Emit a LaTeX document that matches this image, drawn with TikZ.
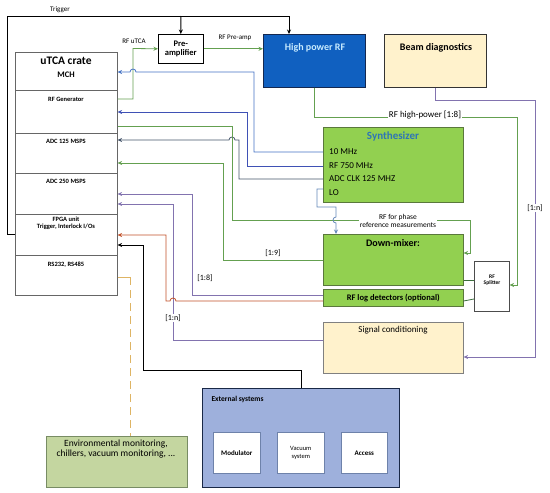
\documentclass[tikz,border=0pt]{standalone}
\usepackage{fontspec}
\setmainfont{Carlito}
\usetikzlibrary{arrows.meta,positioning}

\definecolor{wgreen}{RGB}{100,160,80}
\definecolor{wblue}{RGB}{68,114,196}
\definecolor{windigo}{RGB}{63,81,181}
\definecolor{wslate}{RGB}{68,84,106}
\definecolor{wlo}{RGB}{100,135,185}
\definecolor{wpurple}{RGB}{130,115,175}
\definecolor{wred}{RGB}{192,80,40}
\definecolor{wtan}{RGB}{222,180,100}
\definecolor{wdkgreen}{RGB}{60,110,60}
\definecolor{synthfill}{RGB}{146,208,80}
\definecolor{synthdraw}{RGB}{90,120,60}
\definecolor{hprffill}{RGB}{16,96,192}
\definecolor{hprfdraw}{RGB}{20,40,80}
\definecolor{hprftext}{RGB}{200,235,255}
\definecolor{creamfill}{RGB}{255,242,204}
\definecolor{extfill}{RGB}{158,176,220}
\definecolor{extdraw}{RGB}{25,40,70}
\definecolor{subdraw}{RGB}{110,130,170}
\definecolor{envfill}{RGB}{196,214,160}
\definecolor{envdraw}{RGB}{120,140,100}
\definecolor{synthtitle}{RGB}{46,117,182}

\newcommand{\fs}[1]{\fontsize{#1}{#1}\selectfont}

\begin{document}
\begin{tikzpicture}[x=1pt, y=-1pt, >={Stealth[length=4.5pt,width=4pt]},
    box/.style={draw=gray!80!black, anchor=north west, inner sep=0pt, line width=0.6pt},
    wire/.style={line width=0.8pt},
    lbl/.style={font=\fs{7}, inner sep=1pt},
    row/.style={font=\bfseries\fs{6.5}, anchor=north, align=center}]
    \useasboundingbox (0,0) rectangle (550,493);

    % uTCA crate
    \node[box, minimum width=102pt, minimum height=243pt] (crate) at (15,52) {};
    \foreach \y in {90,133,173,214,255}
        \draw[gray!80!black, line width=0.6pt] (crate.west |- 0,\y) -- (crate.east |- 0,\y);
    \node[font=\bfseries\fs{11.5}] (cratetitle) at (66,61) {uTCA crate};
    \node[font=\bfseries\fs{8.5}] (mch) at (66,75) {MCH};
    \node[row] (rfgen) at (66,94) {RF Generator};
    \node[row] (adc125) at (66,136) {ADC 125 MSPS};
    \node[row] (adc250) at (66,176) {ADC 250 MSPS};
    \node[row, inner ysep=1pt] (fpga) at (66,216) {FPGA unit\\Trigger, Interlock I/Os};
    \node[row] (rs) at (66,258) {RS232, RS485};

    % top row
    \node[box, draw=black, minimum width=45pt, minimum height=29pt, align=center,
        font=\bfseries\fs{8.5}] (preamp) at (158,34) {Pre-\\amplifier};
    \node[box, fill=hprffill, draw=hprfdraw, minimum width=102pt, minimum height=53pt] (hprf) at (263,34) {};
    \node[font=\bfseries\fs{10}, text=hprftext] (hprftitle) at (315,48) {High power RF};
    \node[box, fill=creamfill, draw=black!80, minimum width=102pt, minimum height=53pt] (bd) at (384,34) {};
    \node[font=\bfseries\fs{10}] (bdtitle) at (436,48) {Beam diagnostics};

    % synthesizer
    \node[box, fill=synthfill, draw=synthdraw, minimum width=140pt, minimum height=75pt] (synth) at (323,127) {};
    \node[font=\bfseries\fs{11}, text=synthtitle] (synthtitle) at (393,137) {Synthesizer};
    \node[font=\fs{9}, anchor=west, inner sep=0pt] (tenmhz) at (329,152) {10 MHz};
    \node[font=\fs{9}, anchor=west, inner sep=0pt] (rf750) at (329,166) {RF 750 MHz};
    \node[font=\fs{9}, anchor=west, inner sep=0pt] (adcclk) at (329,179) {ADC CLK 125 MHZ};
    \node[font=\fs{9}, anchor=west, inner sep=0pt] (lo) at (329,193) {LO};

    % mixer, detectors, splitter, conditioning
    \node[box, fill=synthfill, draw=synthdraw, minimum width=140pt, minimum height=51pt] (dmix) at (323,234) {};
    \node[font=\bfseries\fs{10}] (dmixtitle) at (393,243) {Down-mixer:};
    \node[box, fill=synthfill, draw=synthdraw, minimum width=140pt, minimum height=17pt,
        font=\bfseries\fs{8.5}] (logdet) at (323,289) {RF log detectors (optional)};
    \node[box, draw=black!70, minimum width=35pt, minimum height=50pt] (split) at (474,261) {};
    \node[font=\bfseries\fs{5.5}, align=center] (splittext) at (492,280) {RF\\[1pt]Splitter};
    \node[box, fill=creamfill, draw=gray, minimum width=140pt, minimum height=51pt] (sigcond) at (323,322) {};
    \node[font=\fs{9}] (sigtitle) at (393,330) {Signal conditioning};

    % external systems
    \node[box, fill=extfill, draw=extdraw, line width=1pt, minimum width=197pt, minimum height=99pt] (ext) at (202,388) {};
    \node[font=\bfseries\fs{7.5}, anchor=west] (exttitle) at (208,399) {External systems};
    \node[box, fill=white, draw=subdraw, minimum width=47pt, minimum height=41pt,
        font=\bfseries\fs{7}] (modulator) at (213,432) {Modulator};
    \node[box, fill=white, draw=subdraw, minimum width=47pt, minimum height=41pt,
        font=\fs{6.5}, align=center] (vacuum) at (277,432) {Vacuum\\[1pt]system};
    \node[box, fill=white, draw=subdraw, minimum width=46pt, minimum height=41pt,
        font=\bfseries\fs{7}] (access) at (341,432) {Access};

    % environmental
    \node[box, fill=envfill, draw=envdraw, line width=0.8pt, minimum width=141pt, minimum height=51pt] (env) at (46,436) {};
    \node[font=\fs{9.5}, align=center] (envtext) at (116,449) {Environmental monitoring,\\[1pt]chillers, vacuum monitoring, ...};

    % trigger
    \draw[->, line width=1pt] (crate.west |- 0,234) -- (7,234) -- (7,16) -- (289,16) -- (hprf.north -| 289,0);
    \draw[->, line width=1pt] (181,16) -- (preamp.north);
    \node[lbl] (trig) at (60,10) {Trigger};

    % RF chain
    \draw[->, wire, wgreen] (crate.east |- 0,99) -- (133,99) -- (133,48.5) -- (preamp.west);
    \node[lbl] (rfutca) at (134,41) {RF uTCA};
    \draw[->, wire, wgreen] (preamp.east) -- (hprf.west |- preamp.east);
    \node[lbl] (rfpre) at (235,38) {RF Pre-amp};
    \draw[->, wire, wgreen] (hprf.south -| 314,0) -- (314,117) -- (517,117) -- (517,285) -- (split.east |- 0,285);
    \node[lbl, font=\fs{9}, fill=white] (rfhp) at (425,115) {RF high-power [1:8]};
    \draw[wire, wdkgreen] (split.west |- 0,280) -- (dmix.east |- 0,280);
    \draw[wire, wdkgreen] (split.west |- 0,299) -- (logdet.east |- 0,301);

    % synthesizer outputs
    \draw[->, wire, wblue] (synth.west |- tenmhz) -| (254,72) -- (136,72)
        arc[start angle=0, end angle=180, radius=3pt] -- (crate.east |- 0,72);
    \draw[->, wire, windigo] (synth.west |- rf750) -| (247,112) -- (crate.east |- 0,112);
    \draw[->, wire, wslate] (synth.west |- adcclk) -| (239,140) -- (235,140)
        arc[start angle=0, end angle=180, radius=3pt] -- (crate.east |- 0,140);

    % phase reference
    \draw[->, wire, wgreen] (crate.east |- 0,126) -- (232,126) -- (232,220) -- (470,220) -- (470,253) -- (dmix.east |- 0,253);
    \node[lbl, font=\fs{7.5}, fill=white, align=center] (phaseref) at (398,221) {RF for phase\\reference measurements};
    \draw[->, wire, wlo] (synth.west |- 0,189) -- (317,189) -- (317,207) -- (336,207) -- (336,217)
        arc[start angle=90, end angle=270, radius=3pt] -- (dmix.north -| 336,0);

    % mixer outputs
    \draw[->, wire, wgreen] (dmix.west |- 0,260) -- (223,260) -- (223,163) -- (crate.east |- 0,163);
    \node[lbl, font=\fs{8}] (ninth) at (273,253) {[1:9]};
    \draw[->, wire, wpurple] (logdet.west |- 0,295) -- (192,295) -- (192,194) -- (crate.east |- 0,194);
    \node[lbl, font=\fs{8}] (eighth) at (205,278) {[1:8]};
    \draw[->, wire, wpurple] (sigcond.west |- 0,340) -- (173,340) -- (173,204) -- (crate.east |- 0,204);
    \node[lbl, font=\fs{8}, fill=white] (nth) at (173,318) {[1:n]};
    \draw[->, wire, wred] (logdet.west |- 0,301) -- (176,301)
        arc[start angle=0, end angle=180, radius=3pt] -- (166,301) -- (166,235) -- (crate.east |- 0,235);

    % beam diagnostics
    \draw[->, wire, wpurple] (bd.south -| 435,0) -- (435,100) -- (535,100) -- (535,357) -- (sigcond.east |- 0,357);
    \node[lbl, font=\fs{8}, fill=white] (bdn) at (535,208) {[1:n]};

    % external and environmental
    \draw[->, line width=1pt] (ext.north -| 301,0) -- (301,370) -- (143,370) -- (143,245) -- (crate.east |- 0,245);
    \draw[wire, wtan, line width=1pt] (crate.east |- 0,277) -- (130,277);
    \draw[wtan, line width=1pt, dash pattern=on 8pt off 5pt] (130,277) -- (env.north -| 130,0);
\end{tikzpicture}
\end{document}
